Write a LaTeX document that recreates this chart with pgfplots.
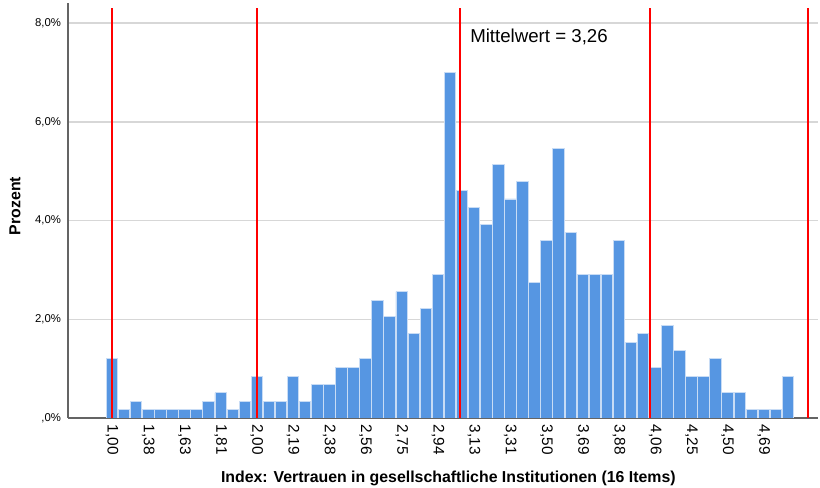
\documentclass[border=0pt]{standalone}
\usepackage{pgfplots}
\pgfplotsset{compat=1.18}
\usepackage{pgfplotstable}
\usepackage{fontspec}
\setmainfont{Liberation Sans}

\definecolor{barblue}{RGB}{86,150,226}
\definecolor{baredge}{RGB}{200,220,245}
\definecolor{gridgray}{RGB}{215,215,215}
\definecolor{axgray}{RGB}{100,100,100}

% index of category, percent
\pgfplotstableread{
x y
0 1.20
1 0.17
2 0.34
3 0.17
4 0.17
5 0.17
6 0.17
7 0.17
8 0.34
9 0.51
10 0.17
11 0.34
12 0.85
13 0.34
14 0.34
15 0.85
16 0.34
17 0.68
18 0.68
19 1.03
20 1.03
21 1.20
22 2.39
23 2.05
24 2.56
25 1.71
26 2.22
27 2.91
28 7.01
29 4.62
30 4.27
31 3.93
32 5.13
33 4.44
34 4.79
35 2.74
36 3.59
37 5.47
38 3.76
39 2.91
40 2.91
41 2.91
42 3.59
43 1.54
44 1.71
45 1.03
46 1.88
47 1.37
48 0.85
49 0.85
50 1.20
51 0.51
52 0.51
53 0.17
54 0.17
55 0.17
56 0.85
}\hist

\begin{document}
\begin{tikzpicture}
\useasboundingbox (-51pt,-52.5pt) rectangle (564pt,313.5pt);
\begin{axis}[
    at={(0,0)}, anchor=south west,
    scale only axis,
    width=562.5pt, height=311.25pt,
    xmin=-3.645, xmax=58.49,
    ymin=0, ymax=8.41,
    axis lines*=left,
    axis line style={axgray, line width=0.8pt},
    ymajorgrids,
    grid style={gridgray, line width=1.1pt},
    major tick length=0pt,
    xtick={0,3,...,54},
    xticklabels={{1,00},{1,38},{1,63},{1,81},{2,00},{2,19},{2,38},{2,56},{2,75},{2,94},{3,13},{3,31},{3,50},{3,69},{3,88},{4,06},{4,25},{4,50},{4,69}},
    ytick={0,2,4,6,8},
    yticklabels={{,0\%},{2,0\%},{4,0\%},{6,0\%},{8,0\%}},
    xticklabel style={rotate=-90, anchor=west, font=\fontsize{11.5}{13}\selectfont},
    xticklabel shift=1.5pt,
    yticklabel style={font=\fontsize{8.5}{10}\selectfont},
    yticklabel shift=1.7pt,
    xlabel={Index: Vertrauen in gesellschaftliche Institutionen (16 Items)},
    xlabel style={at={(axis description cs:0.5,0)}, anchor=base, yshift=-48.75pt, xshift=4pt, font=\bfseries\fontsize{11.9}{14}\selectfont},
    ylabel={Prozent},
    ylabel style={at={(axis description cs:-0.0707,0.511)}, anchor=center, font=\bfseries\fontsize{11.9}{14}\selectfont},
]
\addplot[ybar, bar width=8.6pt, fill=barblue, draw=baredge, line width=0.6pt] table[x=x, y=y] {\hist};
\addplot[red, line width=1.2pt] coordinates {(0,0) (0,8.31)};
\addplot[red, line width=1.2pt] coordinates {(12,0) (12,8.31)};
\addplot[red, line width=1.2pt] coordinates {(28.83,0) (28.83,8.31)};
\addplot[red, line width=1.2pt] coordinates {(44.55,0) (44.55,8.31)};
\addplot[red, line width=1.2pt] coordinates {(57.64,0) (57.64,8.31)};
\node[anchor=base west, inner sep=0pt, font=\fontsize{14}{16}\selectfont] at (axis cs:29.66,7.60) {Mittelwert = 3,26};
\end{axis}
\end{tikzpicture}
\end{document}
